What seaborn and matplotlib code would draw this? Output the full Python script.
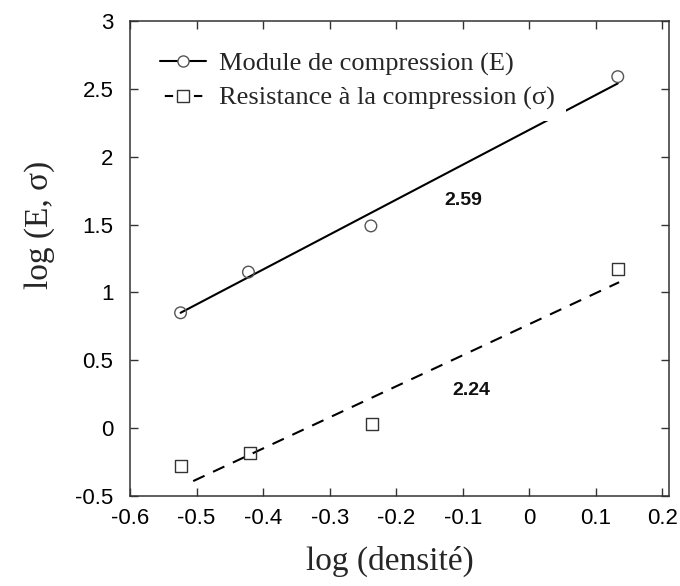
import matplotlib
matplotlib.use("Agg")
import matplotlib.pyplot as plt
from matplotlib.lines import Line2D
import seaborn as sns

# values
log_dens_E = [-0.524, -0.422, -0.238, 0.133]
log_E = [0.85, 1.15, 1.49, 2.59]
log_dens_S = [-0.523, -0.42, -0.237, 0.133]
log_S = [-0.28, -0.18, 0.03, 1.17]

# fitted lines (end points)
fit_E_x = [-0.524, 0.133]
fit_E_y = [0.85, 2.54]
fit_S_x = [-0.505, 0.135]
fit_S_y = [-0.39, 1.075]

slope_labels = ["2.59", "2.24"]
slope_pos = [(-0.099, 1.68), (-0.087, 0.28)]

sns.set_style("ticks")
plt.rcParams["font.family"] = ["Liberation Sans", "DejaVu Sans"]
serif = ["Liberation Serif", "DejaVu Serif"]

fig = plt.figure(figsize=(6.8, 5.86), dpi=100)
ax = fig.add_axes([130 / 680, 1 - 496 / 586, 539 / 680, 475 / 586])

sns.lineplot(x=fit_E_x, y=fit_E_y, ax=ax, color="black", linewidth=1.5)
sns.lineplot(x=fit_S_x, y=fit_S_y, ax=ax, color="black", linewidth=1.5,
             linestyle=(0, (6, 4.5)))
sns.scatterplot(x=log_dens_E, y=log_E, ax=ax, marker="o", s=70,
                facecolors="none", edgecolors="#555555", linewidth=1.0, zorder=3)
sns.scatterplot(x=log_dens_S, y=log_S, ax=ax, marker="s", s=75,
                facecolors="none", edgecolors="#333333", linewidth=1.0, zorder=3)

for lab, (xx, yy) in zip(slope_labels, slope_pos):
    ax.text(xx, yy, lab, ha="center", va="center", fontsize=14,
            fontweight="bold", color="#111111")

ax.set_xlim(-0.6, 0.21)
ax.set_ylim(-0.5, 3)
ax.set_xticks([-0.6, -0.5, -0.4, -0.3, -0.2, -0.1, 0, 0.1, 0.2])
ax.set_xticklabels(["-0.6", "-0.5", "-0.4", "-0.3", "-0.2", "-0.1", "0", "0.1", "0.2"])
ax.set_yticks([-0.5, 0, 0.5, 1, 1.5, 2, 2.5, 3])
ax.set_yticklabels(["-0.5", "0", "0.5", "1", "1.5", "2", "2.5", "3"])
ax.tick_params(direction="in", length=6, width=1, top=True, right=True,
               labelsize=16, colors="#333333", labelcolor="black")
ax.tick_params(axis="x", pad=9)
ax.tick_params(axis="y", pad=12)
for sp in ax.spines.values():
    sp.set_visible(True)
    sp.set_linewidth(1.1)
    sp.set_color("#333333")

ax.set_xlabel("log (densité)", fontsize=24, family=serif)
ax.set_ylabel("log (E, σ)", fontsize=24, family=serif)
ax.xaxis.set_label_coords(0.482, -0.105)
ax.yaxis.set_label_coords(-0.14, 0.57)

handles = [
    Line2D([], [], color="black", lw=1.5, marker="o", ms=8, mfc="white",
           mec="#555555", mew=1.0),
    Line2D([], [], color="black", lw=1.5, linestyle=(4.7, (4, 3)), marker="s",
           ms=8, mfc="white", mec="#333333", mew=1.0),
]
leg = ax.legend(handles, ["Module de compression (E)", "Resistance à la compression (σ)"],
                loc="upper left", bbox_to_anchor=(0.036, 0.957),
                prop={"family": serif, "size": 19},
                frameon=True, framealpha=1, facecolor="white", edgecolor="none",
                handlelength=1.75, handletextpad=0.5, labelspacing=0.4,
                borderaxespad=0, borderpad=0.4, fancybox=False)
leg.set_zorder(5)

fig.savefig("out.png", dpi=100)
